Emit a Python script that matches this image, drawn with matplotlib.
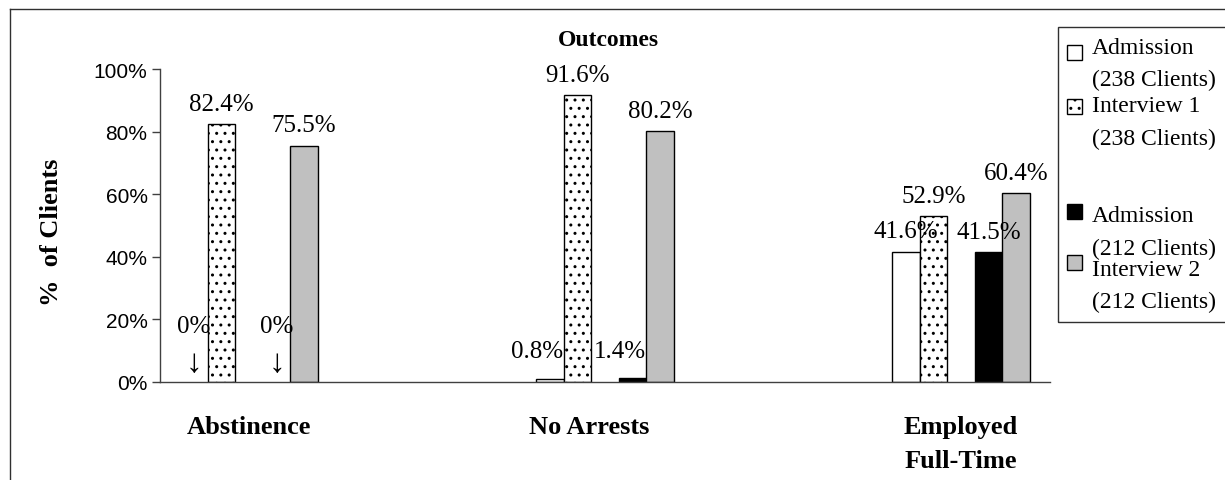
import matplotlib.pyplot as plt
import numpy as np
from matplotlib.patches import Rectangle
from matplotlib.lines import Line2D
from matplotlib.transforms import ScaledTranslation

# data
categories = ['Abstinence', 'No Arrests', 'Employed\nFull-Time']
series_labels = [['Admission', '(238 Clients)'],
                 ['Interview 1', '(238 Clients)'],
                 ['Admission', '(212 Clients)'],
                 ['Interview 2', '(212 Clients)']]
admission_238 = [0.0, 0.8, 41.6]
interview_1 = [82.4, 91.6, 52.9]
admission_212 = [0.0, 1.4, 41.5]
interview_2 = [75.5, 80.2, 60.4]
y_ticks = [0, 20, 40, 60, 80, 100]

W, H = 1225, 481
serif = ['Liberation Serif', 'DejaVu Serif']
sans = ['Liberation Sans', 'DejaVu Sans']


def fx(px):
    return px / W


def fy(py):
    return 1 - py / H


fig = plt.figure(figsize=(W / 100, H / 100), dpi=100)

# outer frame of the chart
fig.add_artist(Line2D([fx(10), fx(10)], [fy(10), -0.1], color='#303030', lw=1.0))
fig.add_artist(Line2D([fx(10), 1.1], [fy(10), fy(10)], color='#303030', lw=1.0))

ax = fig.add_axes([fx(160), fy(383), 890 / W, 313 / H])

x = np.arange(len(categories))
w = 0.0775
offsets = [-2 * w, -w, w, 2 * w]
all_series = [admission_238, interview_1, admission_212, interview_2]
styles = [dict(color='white', hatch=None),
          dict(color='white', hatch='..'),
          dict(color='black', hatch=None),
          dict(color='#c0c0c0', hatch=None)]

for vals, off, st in zip(all_series, offsets, styles):
    xs = x + off
    for xi, v in zip(xs, vals):
        if v > 0:
            ax.bar(xi, v, width=w, color=st['color'], edgecolor='black',
                   linewidth=1.0, hatch=st['hatch'])
        # value labels
        if v == 0:
            ax.text(xi, 18, '0%', ha='center', va='center', fontsize=18, family=serif)
            ax.text(xi, 6, '\u2193', ha='center', va='center', fontsize=24, family=serif)
        elif v < 5:
            ax.text(xi - 0.035, 10, f'{v:.1f}%', ha='center', va='center',
                    fontsize=18, family=serif)
        else:
            ax.text(xi, v + 6.5, f'{v:.1f}%', ha='center', va='center',
                    fontsize=18, family=serif)

ax.set_xlim(-0.25, 2.25)
ax.set_ylim(0, 100)
ax.set_yticks(y_ticks)
ax.set_yticklabels([f'{t}%' for t in y_ticks], fontsize=15, family=sans)
ax.set_xticks(x)
ax.set_xticklabels(categories, fontsize=19, family=serif, fontweight='bold',
                   linespacing=1.6)
ax.tick_params(axis='x', length=0, pad=24)
ax.tick_params(axis='y', length=6, width=1.0, pad=3, color='#404040')
lab = ax.get_xticklabels()[1]
lab.set_transform(lab.get_transform() + ScaledTranslation(-0.16, 0, fig.dpi_scale_trans))
for s in ['top', 'right']:
    ax.spines[s].set_visible(False)
for s in ['left', 'bottom']:
    ax.spines[s].set_color('#404040')
    ax.spines[s].set_linewidth(1.0)

fig.text(fx(608), fy(40), 'Outcomes', ha='center', va='center', fontsize=17,
         family=serif, fontweight='bold')
fig.text(fx(52), fy(232), '%  of Clients', ha='center', va='center', rotation=90,
         fontsize=19, family=serif, fontweight='bold')

# legend, drawn by hand
fig.add_artist(Rectangle((fx(1058), fy(323)), 1, (323 - 28) / H, transform=fig.transFigure,
                         facecolor='none', edgecolor='#303030', linewidth=1.0))
line1_y = [48, 107, 217, 270]
square_y = [54, 108, 213, 264]
for (l1, l2), ly, sy, st in zip(series_labels, line1_y, square_y, styles):
    fig.add_artist(Rectangle((fx(1067), fy(sy + 7)), 15 / W, 15 / H,
                             transform=fig.transFigure, facecolor=st['color'],
                             edgecolor='black', linewidth=1.0, hatch=st['hatch']))
    fig.text(fx(1092), fy(ly), l1, ha='left', va='center', fontsize=17, family=serif)
    fig.text(fx(1092), fy(ly + 32), l2, ha='left', va='center', fontsize=17, family=serif)

fig.savefig('out.png', dpi=100)
